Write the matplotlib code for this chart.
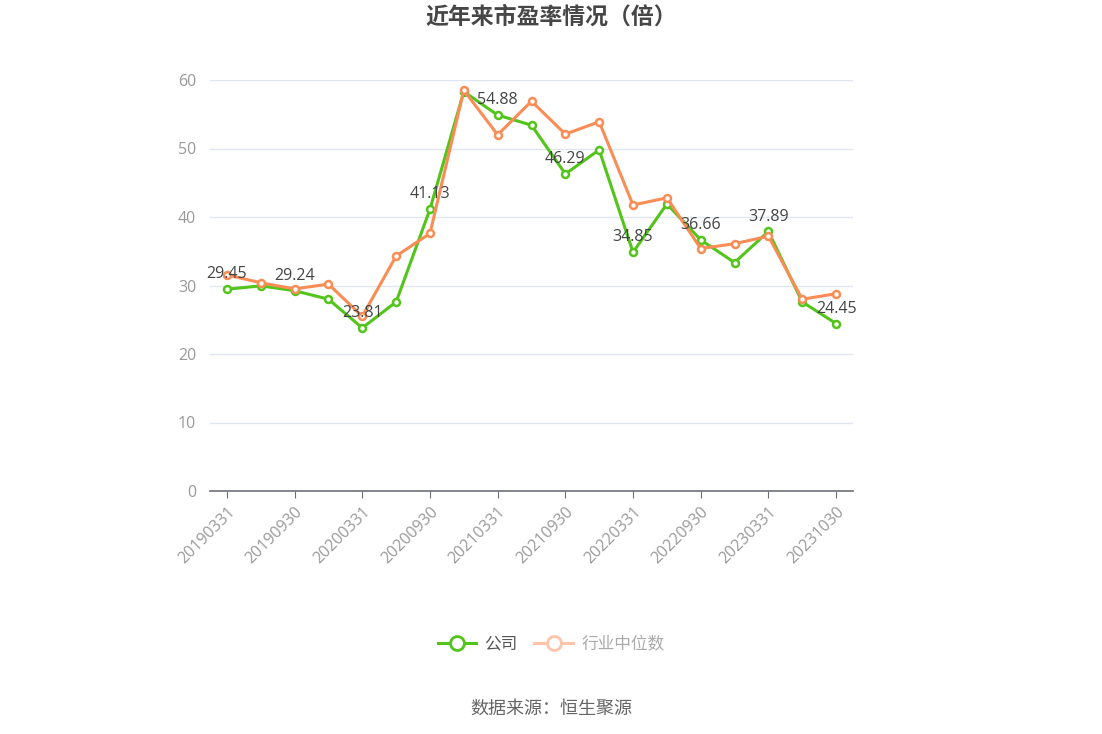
import matplotlib
matplotlib.use("Agg")
import matplotlib.pyplot as plt
from matplotlib.lines import Line2D

plt.rcParams['font.family'] = ['Open Sans', 'Noto Sans CJK SC', 'DejaVu Sans']

dates = ["20190331", "20190630", "20190930", "20191231", "20200331", "20200630",
         "20200930", "20201231", "20210331", "20210630", "20210930", "20211231",
         "20220331", "20220630", "20220930", "20221231", "20230331", "20230630",
         "20231030"]
company = [29.45, 29.95, 29.24, 28.0, 23.81, 27.6, 41.13, 58.3, 54.88, 53.4,
           46.29, 49.8, 34.85, 41.9, 36.66, 33.35, 37.89, 27.6, 24.45]
industry = [31.55, 30.4, 29.5, 30.2, 25.5, 34.3, 37.6, 58.5, 52.0, 56.9,
            52.1, 53.9, 41.75, 42.8, 35.4, 36.1, 37.2, 28.0, 28.8]
y_ticks = [0, 10, 20, 30, 40, 50, 60]

green = '#52c41a'
orange = '#fa8c55'
cjk = ['Noto Sans CJK SC', 'DejaVu Sans']

fig = plt.figure(figsize=(11.02, 7.34), dpi=100)
ax = fig.add_axes([210/1102, 1-491/734, (853-210)/1102, (491-80)/734])

x = list(range(len(dates)))
ax.plot(x, company, color=green, lw=2.2, marker='o', ms=5, mfc='white',
        mec=green, mew=1.8, zorder=3)
ax.plot(x, industry, color=orange, lw=2.2, marker='o', ms=5, mfc='white',
        mec=orange, mew=1.8, zorder=4)

for i in range(0, len(dates), 2):
    ax.annotate(f"{company[i]:.2f}", (x[i], company[i]), xytext=(0, 5),
                textcoords='offset points', ha='center', va='bottom',
                fontsize=11.5, color='#444444', zorder=5)

ax.set_xlim(-0.5, len(dates) - 0.5)
ax.set_ylim(0, 60)
ax.set_yticks(y_ticks)
ax.set_yticklabels([str(v) for v in y_ticks], fontsize=11.5, color='#999999')
ax.set_xticks(x[::2])
ax.set_xticklabels(dates[::2], rotation=45, ha='right', rotation_mode='anchor',
                   fontsize=11.5, color='#999999')
ax.tick_params(axis='y', length=0, pad=10)
ax.tick_params(axis='x', length=5, color='#6e7079', pad=4)
ax.grid(axis='y', color='#e0e6f1', lw=1)
ax.set_axisbelow(True)
for s in ['top', 'right', 'left']:
    ax.spines[s].set_visible(False)
ax.spines['bottom'].set_color('#6e7079')
ax.spines['bottom'].set_linewidth(1.2)

fig.text(0.5, 1-17/734, "近年来市盈率情况（倍）", ha='center', va='center',
         fontsize=16.5, fontweight='bold', color='#464646', family=cjk)

handles = [Line2D([0], [0], color=green, lw=2.2, marker='o', ms=10, mfc='white', mec=green, mew=2),
           Line2D([0], [0], color='#fdc3ab', lw=2.2, marker='o', ms=10, mfc='white', mec='#fdc3ab', mew=2)]
leg = fig.legend(handles, ["公司", "行业中位数"], loc='center', bbox_to_anchor=(0.5, 1-644/734),
                 ncol=2, frameon=False, handlelength=2.3, columnspacing=1.0,
                 handletextpad=0.5, prop={'family': cjk, 'size': 12})
leg.get_texts()[0].set_color('#555555')
leg.get_texts()[1].set_color('#aaaaaa')

fig.text(0.5, 1-709/734, "数据来源：恒生聚源", ha='center', va='center',
         fontsize=13, color='#666666', family=cjk)

fig.savefig("out.png", dpi=100)
